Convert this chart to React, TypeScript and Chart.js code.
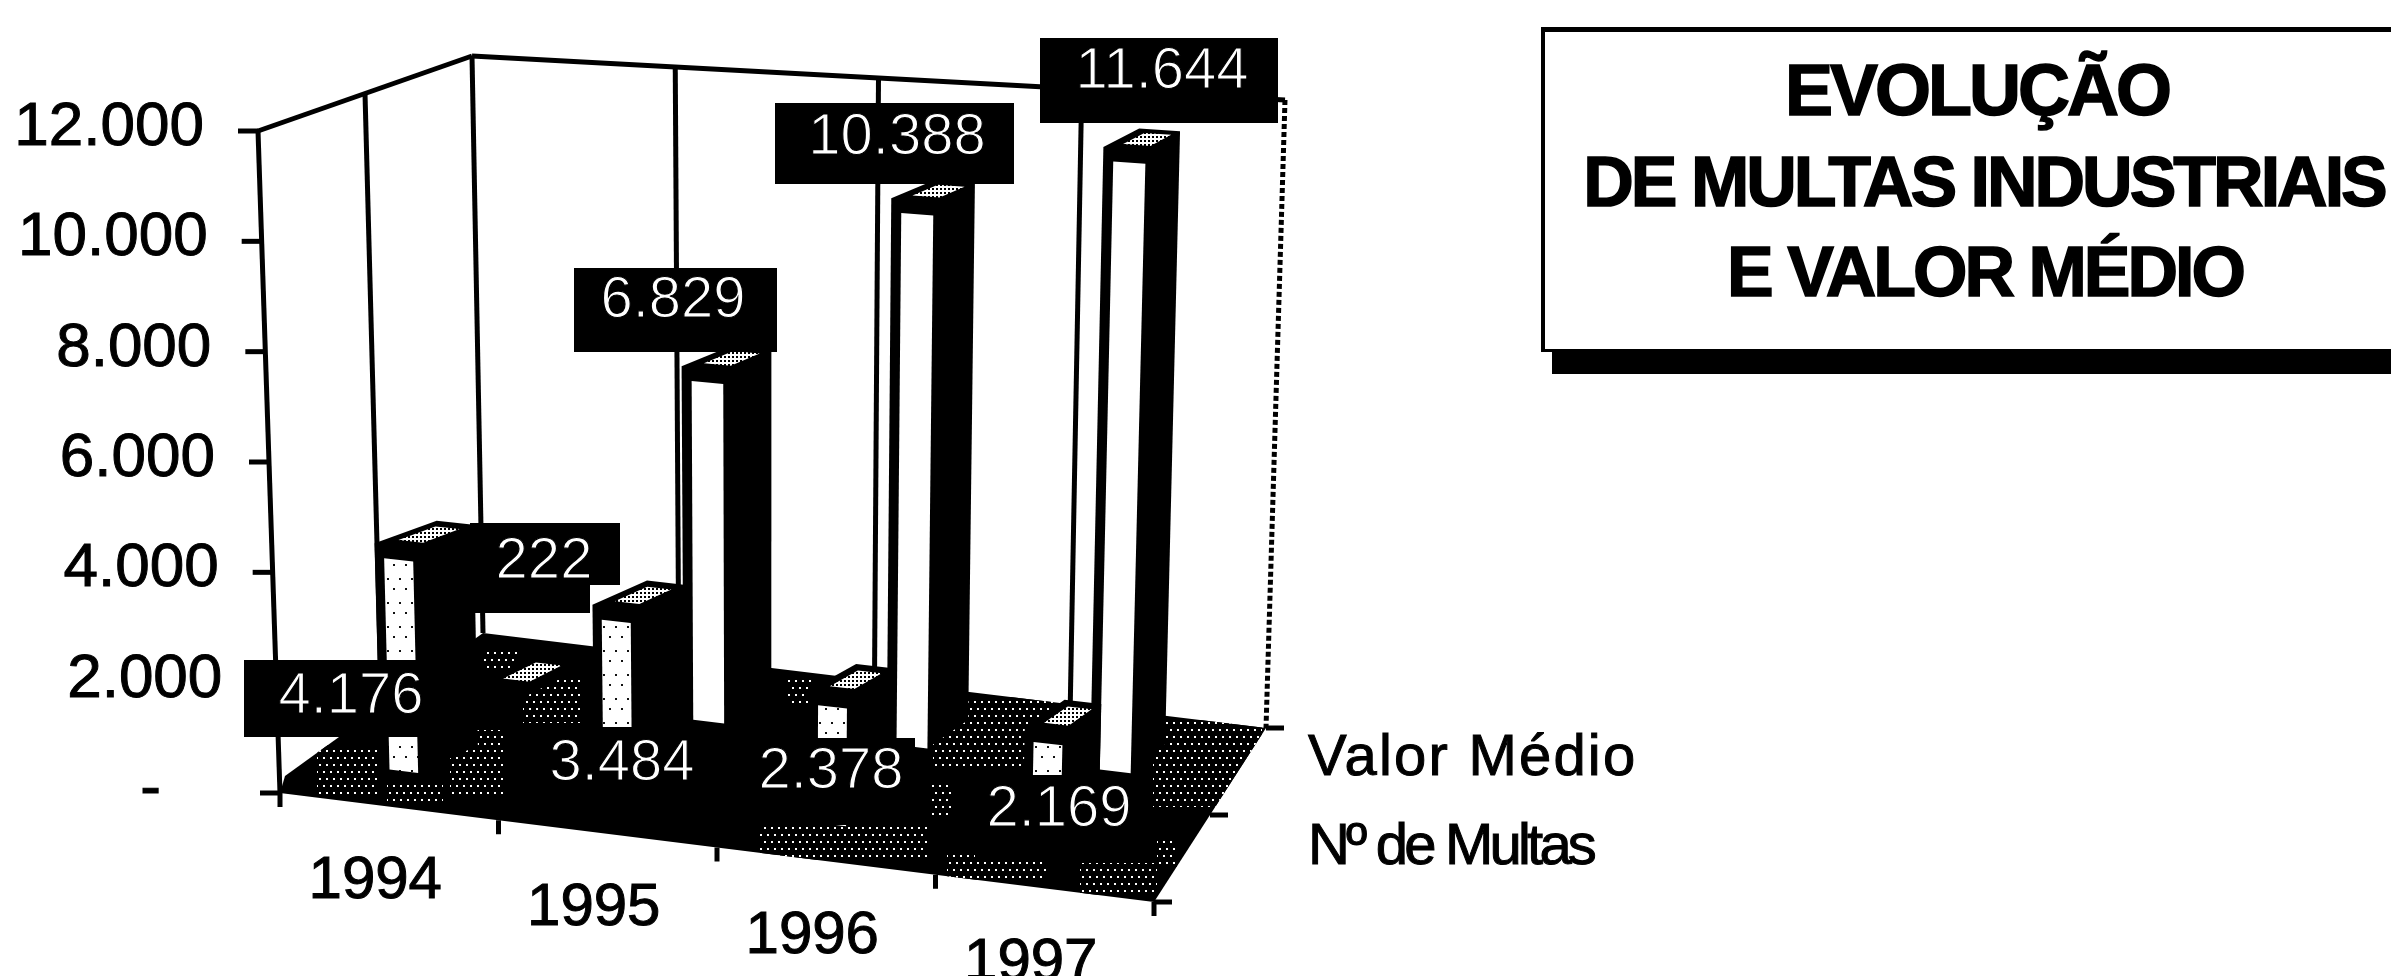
import React, { useEffect, useRef } from "react";
import { Chart, registerables, BarController, LinearScale, CategoryScale } from "chart.js";

// ---- data ----
const years = ["1994", "1995", "1996", "1997"];
const numeroDeMultas = [4176, 3484, 2378, 2169];
const valorMedio = [222, 6829, 10388, 11644];
const titleLines = ["EVOLUÇÃO", "DE MULTAS INDUSTRIAIS", "E VALOR MÉDIO"];
const rowNames = ["Nº de Multas", "Valor Médio"];
const yTicks = [0, 2000, 4000, 6000, 8000, 10000, 12000];

// ---- layout of the oblique box (canvas corners of the 3D room) ----
type P = [number, number];
const FL: P = [280, 793], FR: P = [1154, 902], BR: P = [1266, 728], BL: P = [483, 633];
const TFL: P = [258, 131], TFR: P = [1175, 214], TBR: P = [1285, 100], TBL: P = [472, 56];
const lerp = (a: P, b: P, t: number): P => [a[0] + (b[0] - a[0]) * t, a[1] + (b[1] - a[1]) * t];
const project = (u: number, t: number, w: number): P => {
  const floor = lerp(lerp(FL, FR, u), lerp(BL, BR, u), w);
  const top = lerp(lerp(TFL, TFR, u), lerp(TBL, TBR, u), w);
  return lerp(floor, top, t);
};
const ROWS = [
  { w: 0.2, du: -0.033, half: 0.022, depth: 0.31, squash: 0.55 },
  { w: 0.67, du: -0.021, half: 0.025, depth: 0.28, squash: 0.6 },
];
const FONT = '"Liberation Sans", Arial, sans-serif';

// label boxes: [left, top, right, bottom, textCenterX, textCenterY]
const BOXES = [
  [[244, 660, 458, 737, 351, 697], [540, 727, 705, 805, 622, 764], [745, 738, 915, 825, 831, 772], [975, 775, 1145, 858, 1059, 810]],
  [[470, 523, 620, 585, 544, 562], [574, 268, 777, 352, 673, 301], [775, 103, 1014, 184, 897, 138], [1040, 38, 1278, 123, 1162, 72]],
];
const BOX_EXTRA = [470, 585, 590, 613];
// places on the floor where the dither of the floor shows through: [x0, y0, x1, y1]
const SPECKLES = [
  [317, 745, 377, 795], [387, 785, 443, 802], [450, 730, 503, 795], [483, 647, 517, 673], [523, 677, 580, 723],
  [760, 827, 927, 860], [933, 697, 1053, 770], [930, 783, 953, 817], [947, 850, 1047, 880], [1080, 863, 1157, 895],
  [1153, 720, 1262, 807], [1157, 837, 1177, 867], [787, 677, 813, 703],
];
const fmt = (v: number) => String(v).replace(/\B(?=(\d{3})+$)/g, ".");

function makePattern(ctx: CanvasRenderingContext2D, size: number, bg: string, fg: string, dots: number[][], dot = 2) {
  const c = document.createElement("canvas");
  c.width = size; c.height = size;
  const g = c.getContext("2d")!;
  g.fillStyle = bg; g.fillRect(0, 0, size, size);
  g.fillStyle = fg;
  dots.forEach(([x, y]) => g.fillRect(x, y, dot, dot));
  return ctx.createPattern(c, "repeat")!;
}
const poly = (ctx: CanvasRenderingContext2D, pts: P[]) => {
  ctx.beginPath();
  pts.forEach((p, i) => (i ? ctx.lineTo(p[0], p[1]) : ctx.moveTo(p[0], p[1])));
  ctx.closePath();
};
const line = (ctx: CanvasRenderingContext2D, a: P, b: P) => {
  ctx.beginPath(); ctx.moveTo(a[0], a[1]); ctx.lineTo(b[0], b[1]); ctx.stroke();
};

class Bar3DController extends BarController {
  static id = "bar3d";
  static defaults = { ...BarController.defaults };
  static overrides = BarController.overrides;
  draw() {
    const chart = this.chart as any;
    const ctx = chart.ctx as CanvasRenderingContext2D;
    const area = chart.chartArea;
    const xs = chart.scales.x, ys = chart.scales.y;
    const row = ROWS[this.index];
    const data = this.getDataset().data as number[];
    const face = makePattern(ctx, 24, "#fff", "#111",
      this.index === 0 ? [[3, 2], [15, 2], [9, 12], [21, 12]] : []);
    const hatch = makePattern(ctx, 8, "#fff", "#000", [[0, 0], [4, 4], [4, 0], [0, 4]]);
    data.forEach((v, i) => {
      const c = (xs.getPixelForValue(i) - area.left) / area.width + row.du;
      const t = (area.bottom - ys.getPixelForValue(v)) / area.height;
      const u0 = c - row.half, u1 = c + row.half;
      const w = row.w;
      const a = project(u0, 0, w), b = project(u1, 0, w);
      const a2 = project(u0, t, w), b2 = project(u1, t, w);
      const squash = (p: P, q: P): P => [q[0], p[1] + (q[1] - p[1]) * row.squash];
      const c0 = squash(b, project(u1, 0, w + row.depth));
      const c2 = squash(b2, project(u1, t, w + row.depth));
      const d2 = squash(a2, project(u0, t, w + row.depth));
      ctx.save();
      // silhouette: side wall, top and front are black
      ctx.fillStyle = "#000";
      poly(ctx, [a, b, c0, c2, d2, a2]); ctx.fill();
      // the small lit fleck of the top face
      const q = (s: number, r: number): P => lerp(lerp(a2, b2, s), lerp(d2, c2, s), r);
      ctx.fillStyle = hatch;
      poly(ctx, [q(0.3, 0.2), q(0.95, 0.2), q(0.95, 0.8), q(0.3, 0.8)]); ctx.fill();
      // the lit front face under a black band
      const h = b[1] - b2[1];
      if (h > 45) {
        const inset = 0.24;
        const k = 1 - 14 / h;
        ctx.fillStyle = face;
        poly(ctx, [
          lerp(a, b, inset), b, lerp(b, b2, k),
          lerp(lerp(a, b, inset), lerp(a2, b2, inset), k),
        ]);
        ctx.fill();
      }
      ctx.restore();
    });
  }
}

class SlantLinearScale extends LinearScale {
  static id = "slantLinear";
  static defaults = LinearScale.defaults;
  _computeLabelItems(area: any) {
    const items = (LinearScale.prototype as any)._computeLabelItems.call(this, area);
    items.forEach((it: any, i: number) => {
      const value = this.ticks[i].value;
      const axis = project(0, value / 12000, 0);
      const gap = value === 0 ? 119 : 54;
      it.options.translation = [axis[0] - gap, axis[1] - 3];
      it.options.textAlign = "right";
      it.options.textBaseline = "middle";
      it.textOffset = 0;
    });
    return items;
  }
}
class SlantCategoryScale extends CategoryScale {
  static id = "slantCategory";
  static defaults = CategoryScale.defaults;
  _computeLabelItems(area: any) {
    const items = (CategoryScale.prototype as any)._computeLabelItems.call(this, area);
    items.forEach((it: any, i: number) => {
      const pos = project((this.getPixelForValue(i) - this.left) / this.width, 0, 0);
      it.options.translation = [pos[0] - 14, pos[1] + 75];
      it.options.textAlign = "center";
      it.options.textBaseline = "middle";
      it.textOffset = 0;
    });
    return items;
  }
}

const roomPlugin = {
  id: "room",
  beforeDatasetsDraw(chart: any) {
    const ctx = chart.ctx as CanvasRenderingContext2D;
    const area = chart.chartArea;
    ctx.save();
    ctx.strokeStyle = "#000";
    ctx.lineCap = "butt";
    // walls
    ctx.lineWidth = 5;
    line(ctx, TFL, TBL);
    line(ctx, TBL, TBR);
    line(ctx, TFL, FL);
    line(ctx, lerp(TFL, TBL, 0.5), lerp(FL, BL, 0.5));
    line(ctx, TBL, BL);
    [0.25, 0.5, 0.75].forEach((u) => line(ctx, project(u, 1, 1), project(u, 0, 1)));
    ctx.setLineDash([5, 3]);
    line(ctx, TBR, BR);
    ctx.setLineDash([]);
    // floor: black, with a dither in places
    ctx.fillStyle = "#000";
    poly(ctx, [FL, FR, BR, BL, [285, 776]]);
    ctx.fill();
    ctx.save();
    ctx.clip();
    ctx.fillStyle = makePattern(ctx, 14, "#000", "#fff", [[1, 1], [8, 1], [4, 8], [11, 8]]);
    SPECKLES.forEach(([x0, y0, x1, y1]) => ctx.fillRect(x0, y0, x1 - x0, y1 - y0));
    ctx.restore();
    // floor ticks
    ctx.lineWidth = 5;
    [0, 0.25, 0.5, 0.75, 1].forEach((u) => {
      const p = project(u, 0, 0);
      line(ctx, p, [p[0], p[1] + 14]);
    });
    [0, 0.5, 1].forEach((w) => {
      const p = project(1, 0, w);
      line(ctx, p, [p[0] + 18, p[1]]);
    });
    // y axis tick marks
    yTicks.forEach((v) => {
      const t = (area.bottom - chart.scales.y.getPixelForValue(v)) / area.height;
      const p = project(0, t, 0);
      line(ctx, [p[0] - 20, p[1]], p);
    });
    // depth axis names
    ctx.fillStyle = "#000";
    ctx.strokeStyle = "#000";
    ctx.lineWidth = 1;
    ctx.font = `58px ${FONT}`;
    ctx.textAlign = "left";
    ctx.textBaseline = "middle";
    (ctx as any).letterSpacing = "2.2px";
    ctx.fillText(rowNames[1], 1308, project(1, 0, 0.75)[1] - 13);
    ctx.strokeText(rowNames[1], 1308, project(1, 0, 0.75)[1] - 13);
    (ctx as any).letterSpacing = "-3.8px";
    ctx.fillText(rowNames[0], 1308, project(1, 0, 0.25)[1] - 11);
    ctx.strokeText(rowNames[0], 1308, project(1, 0, 0.25)[1] - 11);
    ctx.restore();
  },
  afterDatasetsDraw(chart: any) {
    const ctx = chart.ctx as CanvasRenderingContext2D;
    ctx.save();
    ctx.fillStyle = "#000";
    ctx.fillRect(BOX_EXTRA[0], BOX_EXTRA[1], BOX_EXTRA[2] - BOX_EXTRA[0], BOX_EXTRA[3] - BOX_EXTRA[1]);
    [numeroDeMultas, valorMedio].forEach((series, r) => {
      series.forEach((v, i) => {
        const [l, t, rr, b, cx, cy] = BOXES[r][i];
        ctx.fillStyle = "#000";
        ctx.fillRect(l, t, rr - l, b - t);
        ctx.fillStyle = "#fff";
        ctx.strokeStyle = "#000";
        ctx.lineWidth = 1.2;
        ctx.font = `58px ${FONT}`;
        ctx.textAlign = "center";
        ctx.textBaseline = "middle";
        ctx.fillText(fmt(v), cx, cy);
        ctx.strokeText(fmt(v), cx, cy);
      });
    });
    ctx.restore();

    // title box
    ctx.save();
    const W = chart.width;
    ctx.fillStyle = "#000";
    ctx.fillRect(1552, 352, W - 1552, 22);
    ctx.fillRect(1541, 27, W - 1541, 5);
    ctx.fillRect(1541, 27, 4, 325);
    ctx.fillRect(1541, 349, W - 1541, 3);
    ctx.textAlign = "center";
    ctx.textBaseline = "middle";
    ctx.strokeStyle = "#000";
    ctx.lineWidth = 1.5;
    const specs = [
      { x: 1977, y: 95, size: 72, ls: "-3px" },
      { x: 1984, y: 187, size: 70, ls: "-3px" },
      { x: 1985, y: 277, size: 70, ls: "-3px" },
    ];
    titleLines.forEach((s, i) => {
      ctx.font = `bold ${specs[i].size}px ${FONT}`;
      (ctx as any).letterSpacing = specs[i].ls;
      ctx.fillText(s, specs[i].x, specs[i].y);
      ctx.strokeText(s, specs[i].x, specs[i].y);
    });
    ctx.restore();
  },
};

Chart.register(...registerables, Bar3DController, SlantLinearScale, SlantCategoryScale);

export default function App() {
  const ref = useRef<HTMLCanvasElement>(null);
  useEffect(() => {
    document.body.style.margin = "0";
    document.body.style.background = "#fff";
    const chart = new Chart(ref.current!, {
      type: "bar3d" as any,
      data: {
        labels: years,
        datasets: [
          { label: rowNames[0], data: numeroDeMultas, clip: false } as any,
          { label: rowNames[1], data: valorMedio, clip: false } as any,
        ],
      },
      plugins: [roomPlugin],
      options: {
        animation: false,
        responsive: false,
        devicePixelRatio: 1,
        layout: { padding: { left: 0, top: 131, right: 2391 - 1154, bottom: 0 } },
        plugins: { legend: { display: false }, tooltip: { enabled: false }, title: { display: false } },
        scales: {
          x: {
            type: "slantCategory" as any,
            offset: true,
            grid: { display: false },
            border: { display: false },
            afterFit: (s: any) => { s.height = 976 - 793; },
            ticks: {
              color: "#000", autoSkip: false, maxRotation: 0,
              textStrokeColor: "#000", textStrokeWidth: 1,
              font: { family: FONT, size: 60 },
            },
          },
          y: {
            type: "slantLinear" as any,
            min: 0,
            max: 12000,
            grid: { display: false },
            border: { display: false },
            afterFit: (s: any) => { s.width = 280; },
            ticks: {
              stepSize: 2000,
              color: "#000",
              textStrokeColor: "#000", textStrokeWidth: 1,
              font: { family: FONT, size: 62 },
              callback: (v: any) => (v === 0 ? "-" : fmt(v)),
            },
          },
        },
      },
    } as any);
    return () => chart.destroy();
  }, []);
  return <canvas ref={ref} width={2391} height={976} style={{ display: "block", width: 2391, height: 976 }} />;
}
